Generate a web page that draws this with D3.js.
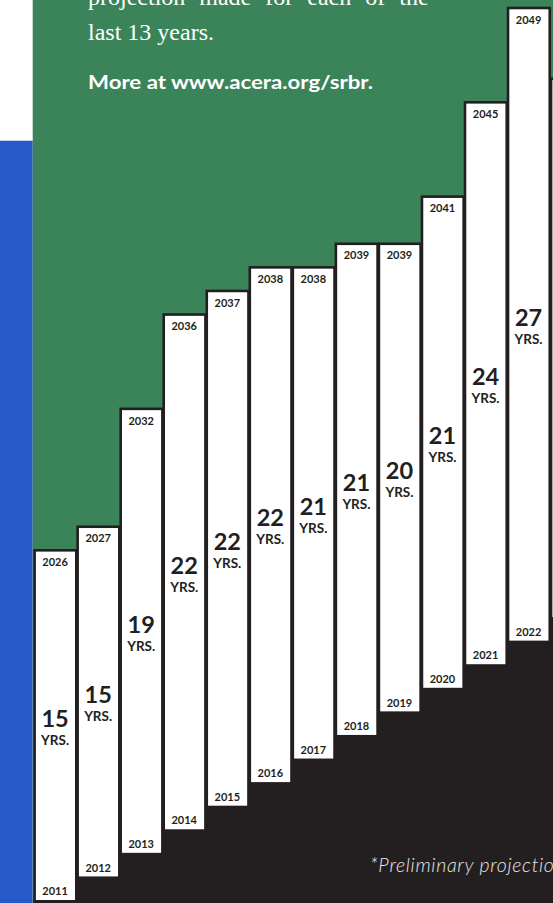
<!DOCTYPE html>
<html>
<head>
<meta charset="utf-8">
<script src="https://cdn.jsdelivr.net/npm/d3@7"></script>
<style>
  body { margin: 0; background: #fff; }
  svg { display: block; }
</style>
</head>
<body>
<div id="chart"></div>
<script>
// start year of each projection, length in years, projected year
const startYears = [2011, 2012, 2013, 2014, 2015, 2016, 2017, 2018, 2019, 2020, 2021, 2022, 2023];
const spans = [15, 15, 19, 22, 22, 22, 21, 21, 20, 21, 24, 27, 23];
const projectedYears = [2026, 2027, 2032, 2036, 2037, 2038, 2038, 2039, 2039, 2041, 2045, 2049, 2046];

const introLines = ["projection made for each of the", "last 13 years."];
const moreText = "More at www.acera.org/srbr.";
const noteText = "*Preliminary projection";

const W = 553, H = 903;
const dark = "#231f20", green = "#3b845a", blue = "#2759c9";
const sans = "Lato, 'Open Sans', sans-serif";

const data = startYears.map((s, i) => ({ start: s, span: spans[i], end: projectedYears[i] }));

const svg = d3.select("#chart").append("svg")
  .attr("width", W)
  .attr("height", H);

const pitch = 43.04;
const x = d3.scaleBand()
  .domain(startYears)
  .range([33.3, 33.3 + pitch * startYears.length])
  .padding(0);

const y = d3.scaleLinear()
  .domain([2011, 2049])
  .range([902.7, 6.7]);

// background panels
svg.append("rect").attr("x", 0).attr("y", 140.7).attr("width", 32.7).attr("height", H - 140.7).attr("fill", blue);
svg.append("rect").attr("x", 32.7).attr("y", 0).attr("width", W - 32.7).attr("height", H).attr("fill", green);

// dark stepped area under the bars
svg.append("g")
  .selectAll("rect")
  .data(data)
  .join("rect")
  .attr("x", d => x(d.start))
  .attr("y", d => y(d.start) - 3)
  .attr("width", x.bandwidth() + 1)
  .attr("height", d => H - y(d.start) + 3)
  .attr("fill", dark);

// intro text
svg.append("g")
  .selectAll("text")
  .data(introLines)
  .join("text")
  .attr("x", 88)
  .attr("y", (d, i) => 4.5 + i * 35.5)
  .attr("fill", "#fff")
  .style("font-family", "'Liberation Serif', 'DejaVu Serif', serif")
  .style("font-size", "24px")
  .style("word-spacing", (d, i) => i === 0 ? "8px" : "0px")
  .text(d => d);

svg.append("text")
  .attr("x", 88)
  .attr("y", 89.3)
  .attr("fill", "#fff")
  .attr("textLength", 285)
  .attr("lengthAdjust", "spacingAndGlyphs")
  .style("font-family", sans)
  .style("font-weight", 700)
  .style("font-size", "18px")
  .text(moreText);

// bars
const bars = svg.append("g")
  .selectAll("g")
  .data(data)
  .join("g");

bars.append("rect")
  .attr("x", d => x(d.start) + 1.3)
  .attr("y", d => y(d.end) + 1.3)
  .attr("width", pitch - 1.34)
  .attr("height", d => y(d.start) - y(d.end) - 2.7)
  .attr("fill", "#fff")
  .attr("stroke", dark)
  .attr("stroke-width", 2.6);

const cx = d => x(d.start) + pitch / 2 + 0.3;

// the last bar runs off the page, so only label bars that fit
const labelled = bars.filter(d => cx(d) < W);

labelled.append("text")
  .attr("x", cx)
  .attr("y", d => y(d.end) + 17)
  .attr("text-anchor", "middle")
  .attr("fill", dark)
  .style("font-family", sans)
  .style("font-weight", 700)
  .style("font-size", "11px")
  .text(d => d.end);

labelled.append("text")
  .attr("x", cx)
  .attr("y", d => y(d.start) - 7.5)
  .attr("text-anchor", "middle")
  .attr("fill", dark)
  .style("font-family", sans)
  .style("font-weight", 700)
  .style("font-size", "11px")
  .text(d => d.start);

labelled.append("text")
  .attr("x", cx)
  .attr("y", d => (y(d.end) + y(d.start)) / 2 + 1)
  .attr("text-anchor", "middle")
  .attr("fill", dark)
  .style("font-family", sans)
  .style("font-weight", 700)
  .style("font-size", "23.5px")
  .text(d => d.span);

labelled.append("text")
  .attr("x", cx)
  .attr("y", d => (y(d.end) + y(d.start)) / 2 + 19)
  .attr("text-anchor", "middle")
  .attr("fill", dark)
  .style("font-family", sans)
  .style("font-weight", 700)
  .style("font-size", "13.5px")
  .text("YRS.");

// footnote, runs past the right edge as in the print
svg.append("text")
  .attr("x", 370)
  .attr("y", 871.5)
  .attr("fill", "#e8e8e8")
  .style("font-family", sans)
  .style("font-style", "italic")
  .style("font-weight", 300)
  .style("font-size", "19.5px")
  .style("letter-spacing", "0.7px")
  .text(noteText);
</script>
</body>
</html>
